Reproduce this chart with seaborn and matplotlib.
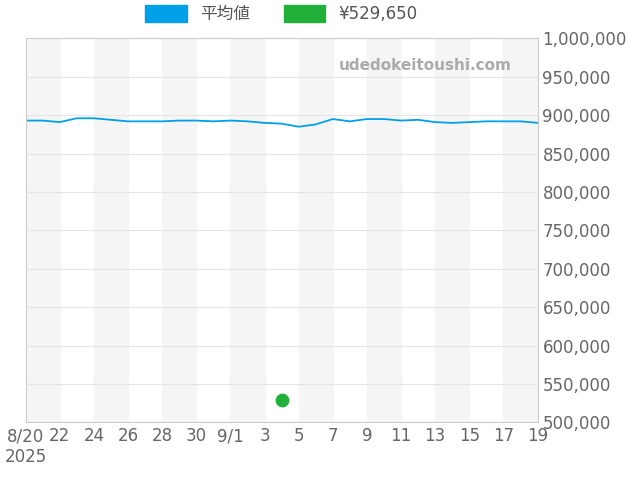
import matplotlib
matplotlib.use("Agg")
import matplotlib.pyplot as plt
import matplotlib.ticker as mticker
import seaborn as sns
import pandas as pd

sns.set_style("white")
plt.rcParams['font.family'] = ['DejaVu Sans', 'Noto Sans CJK JP']

dates = pd.date_range("2025-08-20", "2025-09-19", freq="D")
avg_price = [893000, 893000, 891000, 896000, 896000, 894000, 892000, 892000, 892000, 893000,
             893000, 892000, 893000, 892000, 890000, 889000, 885000, 888000, 895000, 892000,
             895000, 895000, 893000, 894000, 891000, 890000, 891000, 892000, 892000, 892000, 890000]
point_date = pd.Timestamp("2025-09-04")
point_price = 529650
tick_labels = ["8/20\n2025", "22", "24", "26", "28", "30", "9/1", "3", "5", "7",
               "9", "11", "13", "15", "17", "19"]

df = pd.DataFrame({"date": dates, "price": avg_price})

fig, ax = plt.subplots(figsize=(6.4, 4.8), dpi=100)
fig.subplots_adjust(left=0.04, right=0.84, top=0.92, bottom=0.12)

for i in range(0, 30, 4):
    ax.axvspan(dates[i], dates[min(i + 2, 30)], color="#f5f5f5", zorder=0)

sns.lineplot(data=df, x="date", y="price", ax=ax, color="#00a0e9", linewidth=1.3, label="平均値")
ax.scatter([point_date], [point_price], color="#22b03a", s=80, zorder=5, label="¥529,650")

ax.set_xlim(dates[0], dates[-1])
ax.set_ylim(500000, 1000000)
ax.set_xticks(dates[::2])
ax.set_xticklabels(tick_labels)
ax.yaxis.tick_right()
ax.yaxis.set_major_locator(mticker.MultipleLocator(50000))
ax.yaxis.set_major_formatter(mticker.FuncFormatter(lambda v, p: f"{int(v):,}"))
ax.tick_params(labelsize=12, colors="#666666", length=0)
ax.grid(axis="y", color="#e5e5e5", linewidth=0.8)
ax.set_xlabel("")
ax.set_ylabel("")
for s in ax.spines.values():
    s.set_color("#cccccc")

ax.text(0.95, 0.93, "udedokeitoushi.com", transform=ax.transAxes, ha="right", va="center",
        fontsize=11, color="#aaaaaa", fontweight="bold")

h, l = ax.get_legend_handles_labels()
handles = [plt.Rectangle((0, 0), 1, 1, color="#00a0e9"), plt.Rectangle((0, 0), 1, 1, color="#22b03a")]
ax.legend(handles, l, loc="lower center", bbox_to_anchor=(0.5, 1.0), ncol=2, frameon=False,
          fontsize=12, handlelength=2.5, handleheight=1.2, labelcolor="#555555")

plt.savefig("out.png")
